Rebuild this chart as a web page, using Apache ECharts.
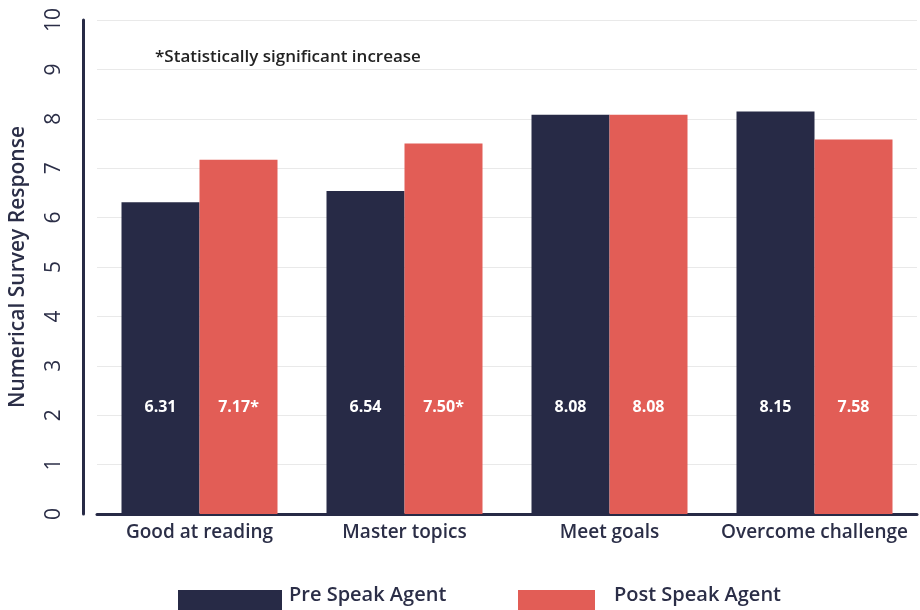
<!DOCTYPE html>
<html>
<head>
<meta charset="utf-8">
<script src="https://cdn.jsdelivr.net/npm/echarts@6/dist/echarts.min.js"></script>
<style>
  html, body { margin: 0; padding: 0; background: #fff; }
  #chart { width: 920px; height: 610px; }
</style>
</head>
<body>
<div id="chart"></div>
<script>
const categories = ["Good at reading", "Master topics", "Meet goals", "Overcome challenge"];
const preValues = [6.31, 6.54, 8.08, 8.15];
const postValues = [7.17, 7.50, 8.08, 7.58];
const postSignificant = [true, true, false, false];

const navy = "#272a46";
const red = "#e25d56";
const textColor = "#2b2e47";
const fontFamily = "'Open Sans', Lato, sans-serif";

let chart = echarts.init(document.getElementById("chart"), null, { renderer: "canvas" });

let option = {
    animation: false,
    textStyle: { fontFamily: fontFamily },
    title: {
        text: "*Statistically significant increase",
        left: 150,
        top: 44,
        textStyle: { fontSize: 17, fontWeight: 600, color: "#222", fontFamily: fontFamily },
    },
    legend: [{
        data: ["Pre Speak Agent"],
        left: 173,
        top: 580,
        icon: "rect",
        itemWidth: 104,
        itemHeight: 34,
        formatter: "{t|{name}}",
        textStyle: {
            rich: { t: { fontSize: 20, fontWeight: 600, color: textColor, fontFamily: fontFamily, padding: [0, 0, 24, 2] } },
        },
    }, {
        data: ["Post Speak Agent"],
        left: 513,
        top: 580,
        icon: "rect",
        itemWidth: 77,
        itemHeight: 34,
        formatter: "{t|{name}}",
        textStyle: {
            rich: { t: { fontSize: 20, fontWeight: 600, color: textColor, fontFamily: fontFamily, padding: [0, 0, 24, 14] } },
        },
    }],
    grid: {
        left: 97,
        right: 3,
        top: 20,
        bottom: 96,
    },
    xAxis: {
        type: "category",
        data: categories,
        axisLine: { lineStyle: { color: navy, width: 3 } },
        axisTick: { show: false },
        axisLabel: { interval: 0, fontSize: 19, fontWeight: 600, color: textColor, margin: 9 },
    },
    yAxis: {
        type: "value",
        min: 0,
        max: 10,
        interval: 1,
        offset: 14,
        name: "Numerical Survey Response",
        nameLocation: "middle",
        nameGap: 54,
        nameTextStyle: { fontSize: 21, fontWeight: 600, color: textColor },
        axisLine: { show: true, lineStyle: { color: navy, width: 3 } },
        axisTick: { show: false },
        axisLabel: { fontSize: 21, fontWeight: 500, color: textColor, rotate: 90, margin: 18 },
        splitLine: { lineStyle: { color: "#e9e9e9", width: 1 } },
    },
    series: [{
        name: "Pre Speak Agent",
        type: "bar",
        data: preValues,
        barWidth: 78,
        barGap: "0%",
        itemStyle: { color: navy },
        label: {
            show: true,
            position: "insideBottom",
            distance: 99,
            color: "#fff",
            fontSize: 16,
            fontWeight: "bold",
            formatter: (p) => p.value.toFixed(2),
        },
    }, {
        name: "Post Speak Agent",
        type: "bar",
        data: postValues,
        barWidth: 78,
        barGap: "0%",
        itemStyle: { color: red },
        label: {
            show: true,
            position: "insideBottom",
            distance: 99,
            color: "#fff",
            fontSize: 16,
            fontWeight: "bold",
            formatter: (p) => p.value.toFixed(2) + (postSignificant[p.dataIndex] ? "*" : ""),
        },
    }],
};

chart.setOption(option);
window.addEventListener("resize", chart.resize);
</script>
</body>
</html>
